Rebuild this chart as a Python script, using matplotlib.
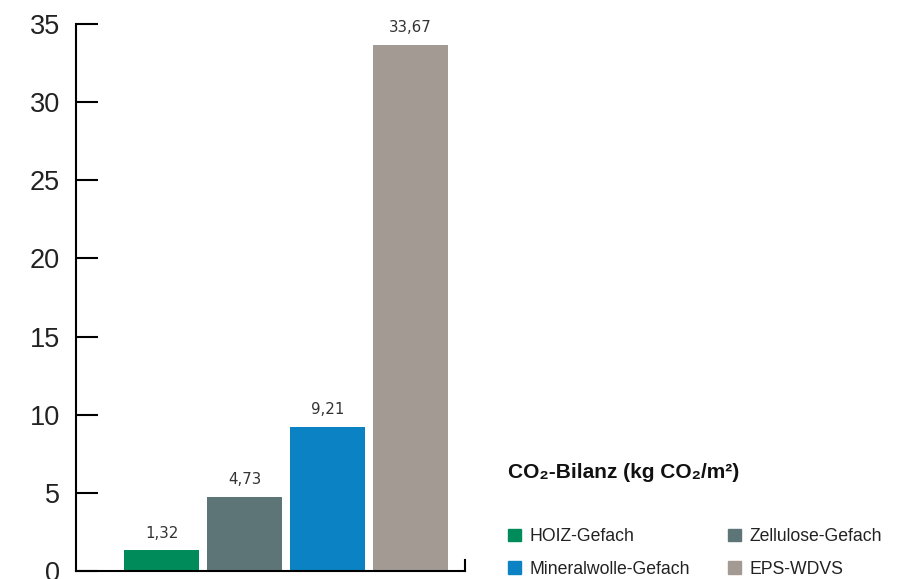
import matplotlib
matplotlib.use("Agg")
import matplotlib.pyplot as plt
from matplotlib.patches import Patch

categories = ["HOIZ-Gefach", "Zellulose-Gefach", "Mineralwolle-Gefach", "EPS-WDVS"]
values = [1.32, 4.73, 9.21, 33.67]
colors = ["#008C5A", "#5E7577", "#0B82C3", "#A39A94"]
yticks = [0, 5, 10, 15, 20, 25, 30, 35]
title = "CO\u2082-Bilanz (kg CO\u2082/m\u00b2)"

plt.rcParams['font.family'] = ['Liberation Sans', 'DejaVu Sans']

W, H = 922, 579
fig = plt.figure(figsize=(W / 100, H / 100), dpi=100)
ax = fig.add_axes([76 / W, (H - 571) / H, (465 - 76) / W, (571 - 24) / H])

x = list(range(len(categories)))
bars = ax.bar(x, values, width=75 / 83, color=colors)
ax.bar_label(bars, labels=[f"{v:.2f}".replace(".", ",") for v in values],
             padding=7, fontsize=10.8, color="#333333", family="DejaVu Sans")

ax.set_ylim(0, 35)
ax.set_xlim((76 - 161.5) / 83, (465 - 161.5) / 83)
ax.set_yticks(yticks)
ax.set_xticks([])
ax.tick_params(axis='y', direction='in', length=15.5, width=1.5, labelsize=19.5,
               pad=11.5, labelcolor="#222222")
ax.spines['top'].set_visible(False)
ax.spines['left'].set_linewidth(1.5)
ax.spines['bottom'].set_linewidth(1.5)
ax.spines['right'].set_linewidth(1.5)
ax.spines['right'].set_bounds(0, 0.7)
for s in ax.spines.values():
    s.set_color("black")
ax.patch.set_alpha(0)

fig.text(508 / W, 1 - 472 / H, title, fontsize=15, fontweight='bold',
         va='center', ha='left', color="#111111")

order = [0, 2, 1, 3]
handles = [Patch(color=colors[i]) for i in order]
labels = [categories[i] for i in order]
fig.legend(handles, labels, ncol=2, loc='upper left',
           bbox_to_anchor=(508 / W, 1 - 528 / H), frameon=False,
           fontsize=12.7, handlelength=0.72, handleheight=0.72,
           handletextpad=0.5, columnspacing=2.15, labelspacing=0.88,
           borderaxespad=0, borderpad=0, labelcolor="#222222")

fig.savefig("out.png", dpi=100)
